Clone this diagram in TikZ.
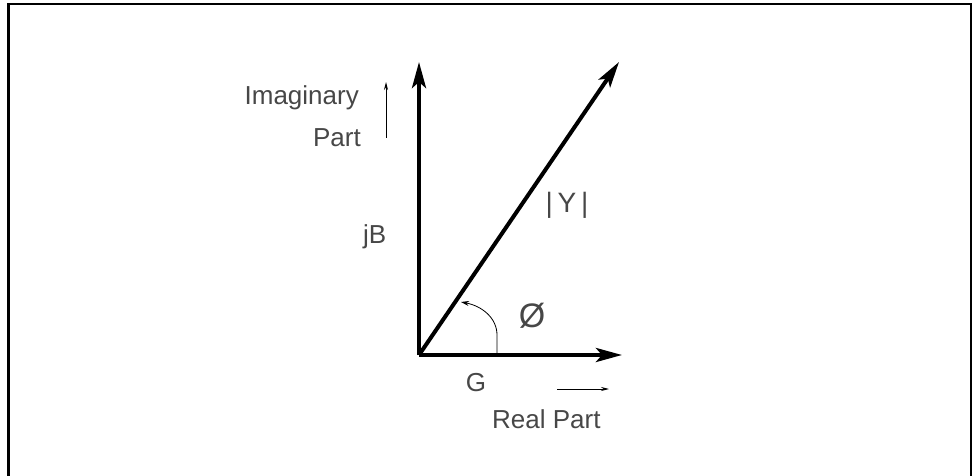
\documentclass[tikz,border=0pt]{standalone}
\usepackage{fontspec}
\setmainfont{Liberation Sans}
\usetikzlibrary{arrows.meta}
\begin{document}
\begin{tikzpicture}[x=1pt,y=-1pt,
  lbl/.style={inner sep=0pt, text=black!72, font=\fontsize{26}{28}\selectfont},
  vec/.style={line width=4pt, -{Stealth[length=26pt,width=14pt,inset=6pt]}},
  thin/.style={line width=0.9pt, -{Stealth[length=8pt,width=4pt]}},
  frame/.style={line width=2.5pt}]
\useasboundingbox (0,0) rectangle (975,476);
\draw[frame] (8.5,480) -- (8.5,4) -- (971,4) -- (971,480);
\coordinate (O) at (419,355);
\coordinate (Bt) at (419,62);
\coordinate (Gt) at (622,355);
\coordinate (Yt) at (619,62);
\draw[vec] (O) -- (Bt);
\draw[vec] (O) -- (Gt);
\draw[vec] (O) -- (Yt);
\coordinate (ia) at (386,138);
\coordinate (ib) at (386,82);
\draw[thin] (ia) -- (ib);
\coordinate (ra) at (557,389);
\coordinate (rb) at (609,389);
\draw[thin] (ra) -- (rb);
\coordinate (a0) at (497,355);
\coordinate (a1) at (497,335);
\coordinate (a2) at (461,302);
\draw[line width=0.8pt, -{Stealth[length=8pt,width=5pt]}] (a0) -- (a1) .. controls (497,318) and (482,306) .. (a2);
\node[lbl, anchor=base east] (im) at (359,105) {Imaginary};
\node[lbl, anchor=base east] (pt) at (361,147) {Part};
\node[lbl, anchor=base west] (jb) at (363,243) {jB};
\node[lbl, font=\fontsize{28}{30}\selectfont] (y) at (567,205) {|\,Y\,|};
\node[lbl, font=\fontsize{34}{36}\selectfont] (phi) at (532,316) {Ø};
\node[lbl] (g) at (476,383) {G};
\node[lbl, anchor=base west] (rp) at (492,428) {Real Part};
\end{tikzpicture}
\end{document}
